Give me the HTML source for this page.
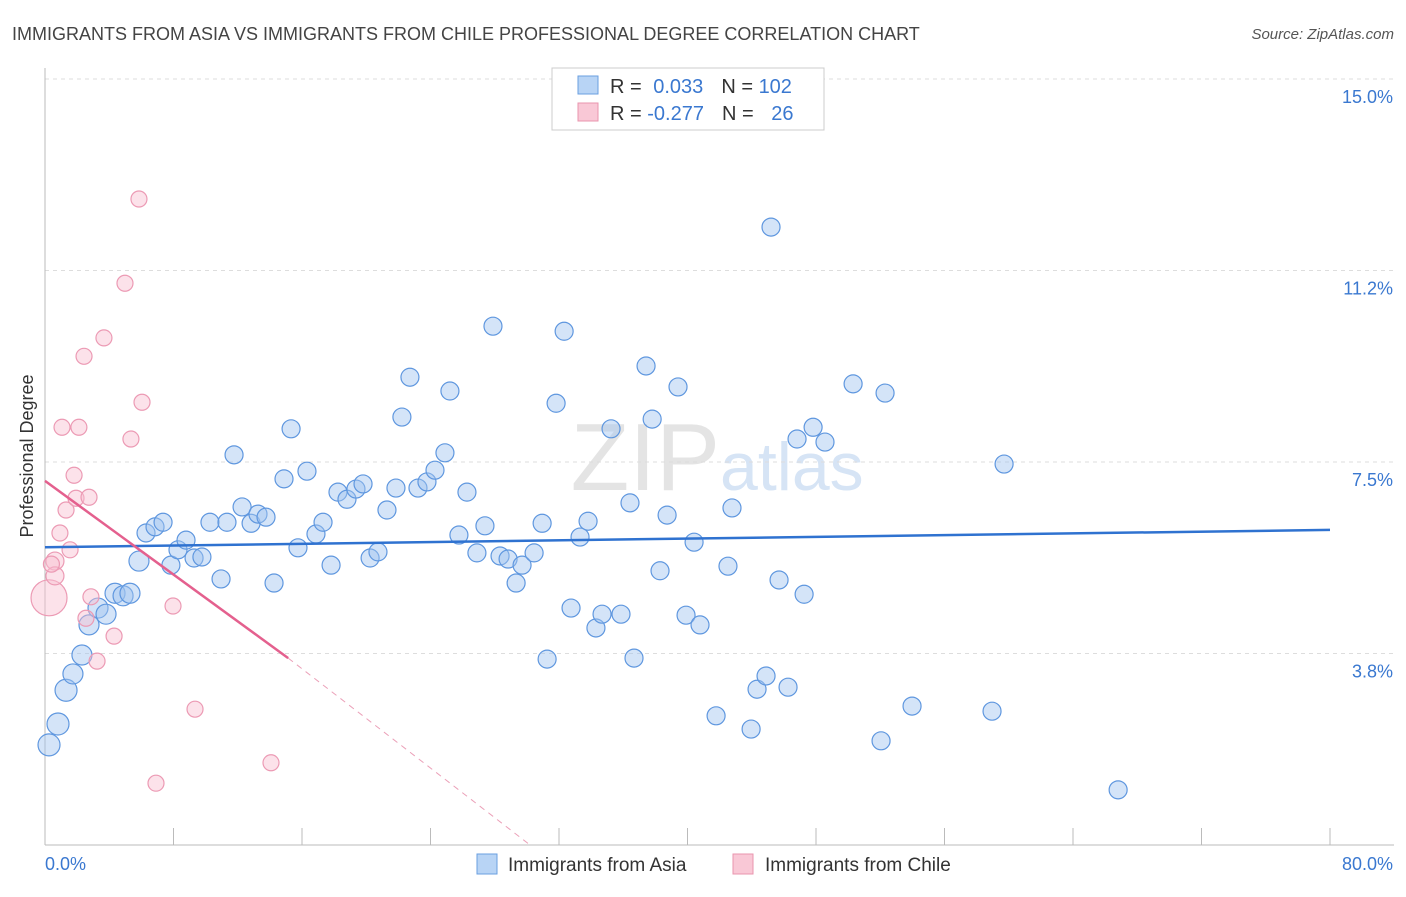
<!DOCTYPE html>
<html><head><meta charset="utf-8"><style>
body{margin:0;background:#fff;font-family:"Liberation Sans",sans-serif;}
svg text{font-family:"Liberation Sans",sans-serif;}
</style></head><body>
<svg id="chart" width="1406" height="892" xmlns="http://www.w3.org/2000/svg">
<text x="12" y="40" font-size="18" fill="#444">IMMIGRANTS FROM ASIA VS IMMIGRANTS FROM CHILE PROFESSIONAL DEGREE CORRELATION CHART</text>
<text x="1394" y="39" font-size="15" fill="#555" text-anchor="end" font-style="italic">Source: ZipAtlas.com</text>
<text x="720" y="490" font-size="96" fill="#e4e4e4" text-anchor="end" font-family="Liberation Serif">ZIP</text>
<text x="720" y="490" font-size="68" fill="#d6e4f5">atlas</text>
<g id="grid"></g><g id="axes"></g><g id="marks"></g>
<text transform="translate(33,456) rotate(-90)" font-size="18" fill="#333" text-anchor="middle">Professional Degree</text>
<g>
<rect x="552" y="68" width="272" height="62" fill="#fff" stroke="#ccc"/>
<rect x="578" y="76" width="20" height="18" fill="#b8d4f5" stroke="#6a9fe0"/>
<rect x="578" y="103" width="20" height="18" fill="#f9c8d6" stroke="#e995ae"/>
<text x="610" y="93" font-size="20" fill="#333">R = <tspan fill="#3a78d0" dx="6">0.033</tspan><tspan fill="#333" dx="18">N = </tspan><tspan fill="#3a78d0">102</tspan></text>
<text x="610" y="120" font-size="20" fill="#333">R = <tspan fill="#3a78d0">-0.277</tspan><tspan fill="#333" dx="18">N = </tspan><tspan fill="#3a78d0" dx="12">26</tspan></text>
</g>
<g>
<rect x="477" y="854" width="20" height="20" fill="#b8d4f5" stroke="#6a9fe0"/>
<text x="508" y="871" font-size="19" fill="#333">Immigrants from Asia</text>
<rect x="733" y="854" width="20" height="20" fill="#f9c8d6" stroke="#e995ae"/>
<text x="765" y="871" font-size="19" fill="#333">Immigrants from Chile</text>
</g>
</svg>
<script>
const yTicks=[3.75,7.5,11.25,15];
const yTickLabels=["3.8%","7.5%","11.2%","15.0%"];
const xTicks=[0,8,16,24,32,40,48,56,64,72,80];
const asiaX=[0.25,0.81,1.31,1.74,2.30,2.74,3.30,3.80,4.36,4.86,5.29,5.85,6.29,6.85,7.35,7.84,8.28,8.78,9.28,9.77,10.27,10.96,11.33,11.77,12.27,12.83,13.26,13.76,14.26,14.88,15.32,15.75,16.31,16.87,17.31,17.81,18.24,18.80,19.36,19.80,20.24,20.73,21.29,21.85,22.22,22.72,23.22,23.78,24.28,24.90,25.21,25.77,26.27,26.89,27.39,27.89,28.33,28.83,29.33,29.70,30.45,30.95,31.26,31.82,32.32,32.75,33.31,33.81,34.30,34.68,35.24,35.86,36.42,36.67,37.42,37.80,38.29,38.73,39.41,39.91,40.41,40.78,41.78,42.52,42.77,43.96,44.33,44.89,45.20,45.70,46.26,46.82,47.26,47.82,48.56,50.31,52.05,52.30,53.98,58.96,59.71,66.81];
const asiaY=[1.96,2.37,3.03,3.35,3.72,4.31,4.64,4.52,4.93,4.88,4.93,5.56,6.11,6.23,6.32,5.48,5.78,5.97,5.62,5.64,6.32,5.21,6.32,7.64,6.62,6.30,6.48,6.42,5.13,7.17,8.15,5.82,7.32,6.09,6.32,5.48,6.91,6.77,6.97,7.07,5.62,5.74,6.56,6.99,8.38,9.16,6.99,7.11,7.34,7.68,8.89,6.07,6.91,5.72,6.25,10.16,5.66,5.60,5.13,5.48,5.72,6.30,3.64,8.65,10.06,4.64,6.03,6.34,4.25,4.52,8.15,4.52,6.70,3.66,9.38,8.34,5.37,6.46,8.97,4.50,5.93,4.31,2.53,5.46,6.60,2.27,3.05,3.31,12.10,5.19,3.09,7.95,4.91,8.18,7.89,9.03,2.04,8.85,2.72,2.62,7.46,1.08];
const asiaR=[11,11,11,10,10,10,10,10,10,10,10,10,9,9,9,9,9,9,9,9,9,9,9,9,9,9,9,9,9,9,9,9,9,9,9,9,9,9,9,9,9,9,9,9,9,9,9,9,9,9,9,9,9,9,9,9,9,9,9,9,9,9,9,9,9,9,9,9,9,9,9,9,9,9,9,9,9,9,9,9,9,9,9,9,9,9,9,9,9,9,9,9,9,9,9,9,9,9,9,9,9,9];
const chileX=[0.25,0.62,0.62,1.06,0.93,1.31,1.81,1.93,2.11,2.43,2.55,2.74,2.86,3.24,3.67,4.30,4.98,5.35,5.85,6.04,6.91,7.97,9.34,14.07,1.56,0.4];
const chileY=[4.84,5.56,5.27,8.18,6.11,6.56,7.24,6.79,8.18,9.57,4.44,6.81,4.86,3.60,9.93,4.09,11.0,7.95,12.65,8.67,1.21,4.68,2.66,1.61,5.78,5.5];
const chileR=[18,9,9,8,8,8,8,8,8,8,8,8,8,8,8,8,8,8,8,8,8,8,8,8,8,8];
const asiaTrend=[[0,5.83],[80,6.17]];
const chileTrendSolid=[[0,7.13],[15.14,3.66]];
const chileTrendDash=[[15.14,3.66],[30.2,0.0]];
const NS="http://www.w3.org/2000/svg";
const X=v=>45+v/80*1285, Y=v=>845-v/15*766;
function mk(tag,parent,attrs){const e=document.createElementNS(NS,tag);for(const k in attrs)e.setAttribute(k,attrs[k]);document.getElementById(parent).appendChild(e);return e;}
yTicks.forEach((t,i)=>{
 const l=mk('line','grid',{x1:45,x2:1394,y1:Y(t),y2:Y(t),stroke:'#ddd','stroke-dasharray':'4,4'});
 
 
 const tx=mk('text','axes',{x:1393,y:Y(t)+24,'font-size':18,fill:'#3a78d0','text-anchor':'end'});
 tx.textContent=yTickLabels[i];
 
 
});
const yl=mk('line','axes',{x1:45,x2:45,y1:68,y2:845,stroke:'#bbb'});


const xl=mk('line','axes',{x1:45,x2:1394,y1:845,y2:845,stroke:'#bbb'});


xTicks.forEach(t=>{const l=mk('line','axes',{x1:X(t),x2:X(t),y1:828,y2:845,stroke:'#bbb'});
 
 });
[[0,'0.0%','start',45],[80,'80.0%','end',1393]].forEach(a=>{const t=mk('text','axes',{x:a[3],y:870,'font-size':18,fill:'#3a78d0','text-anchor':a[2]});t.textContent=a[1];
 
 });
asiaX.forEach((x,i)=>{const c=mk('circle','marks',{cx:X(x),cy:Y(asiaY[i]),r:asiaR[i]||9,fill:'rgba(160,196,240,0.45)',stroke:'#5f97df','stroke-width':1.2});
 
 });
chileX.forEach((x,i)=>{const c=mk('circle','marks',{cx:X(x),cy:Y(chileY[i]),r:chileR[i]||8,fill:'rgba(248,190,208,0.45)',stroke:'#ec9ab4','stroke-width':1.2});
 
 });
function line(d,col,w,dash,name){const l=mk('line','marks',{x1:X(d[0][0]),y1:Y(d[0][1]),x2:X(d[1][0]),y2:Y(d[1][1]),stroke:col,'stroke-width':w});if(dash)l.setAttribute('stroke-dasharray',dash);
 
 }
line(asiaTrend,'#2f72d0',2.5,null,'asia-trendline');
line(chileTrendSolid,'#e4608e',2.5,null,'chile-trendline');
line(chileTrendDash,'#eba0b8',1,'6,5','chile-trendline-extension');
</script>
</body></html>
